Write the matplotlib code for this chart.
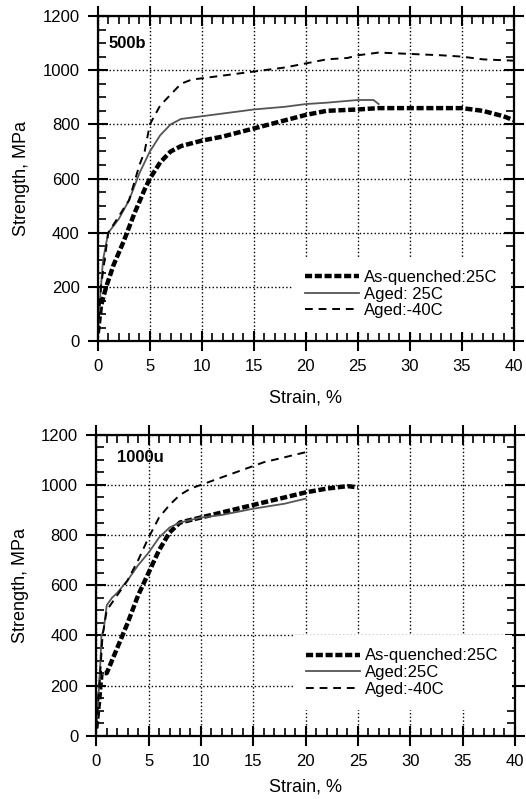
import matplotlib
matplotlib.use("Agg")
import matplotlib.pyplot as plt
from matplotlib.ticker import MultipleLocator

plt.rcParams['font.family'] = ['Liberation Sans', 'DejaVu Sans']

# ---- panel 1: 500b ----
aq500_x = [0, 0.3, 0.8, 1.5, 2.5, 3.5, 4.5, 5, 6, 7, 8, 10, 12, 14, 16, 18, 20, 22, 25, 27, 30, 35, 37, 39, 40]
aq500_y = [30, 130, 200, 280, 370, 470, 560, 600, 660, 700, 720, 740, 755, 775, 795, 815, 835, 850, 855, 860, 860, 860, 850, 830, 815]

ag500_x = [0, 0.2, 0.5, 0.8, 1, 2, 3, 4, 5, 6, 7, 8, 10, 12, 15, 18, 20, 22, 25, 26.5, 27]
ag500_y = [30, 150, 300, 360, 400, 450, 520, 620, 700, 760, 800, 820, 830, 840, 855, 865, 875, 880, 890, 890, 875]

cold500_x = [0, 0.3, 1, 2, 3, 4, 4.5, 5, 6, 7, 8, 9, 10, 13, 16, 18, 20, 22, 24, 25, 27, 30, 33, 35, 37, 40]
cold500_y = [30, 200, 400, 460, 520, 650, 700, 800, 870, 910, 950, 965, 970, 985, 1000, 1010, 1025, 1040, 1045, 1055, 1065, 1060, 1055, 1050, 1040, 1035]

# ---- panel 2: 1000u ----
aq1000_x = [0, 0.3, 0.5, 1, 2, 3, 4, 5, 6, 7, 8, 10, 12, 15, 18, 20, 22, 24, 25]
aq1000_y = [30, 150, 250, 250, 350, 450, 560, 650, 740, 810, 850, 870, 890, 920, 950, 970, 985, 995, 990]

ag1000_x = [0, 0.2, 0.4, 0.5, 0.7, 1, 1.5, 2, 3, 4, 5, 6, 7, 8, 10, 12, 15, 18, 20]
ag1000_y = [30, 150, 300, 400, 420, 520, 550, 570, 620, 680, 730, 790, 830, 850, 870, 880, 905, 925, 945]

cold1000_x = [0, 0.3, 0.6, 1, 2, 3, 4, 5, 6, 7, 8, 9, 10, 12, 14, 16, 18, 20]
cold1000_y = [30, 200, 400, 500, 560, 620, 700, 790, 870, 920, 960, 985, 1000, 1030, 1060, 1090, 1110, 1130]

panels = [
    dict(tag='500b', tag_xy=(1.0, 1100), rect=[0.186, 0.573, 0.791, 0.407],
         data=[(aq500_x, aq500_y), (ag500_x, ag500_y), (cold500_x, cold500_y)],
         labels=['As-quenched:25C', 'Aged: 25C', 'Aged:-40C'],
         leg_anchor=(0.46, 0.0, 0.54, 0.29), xpad=11),
    dict(tag='1000u', tag_xy=(2.0, 1110), rect=[0.183, 0.079, 0.796, 0.377],
         data=[(aq1000_x, aq1000_y), (ag1000_x, ag1000_y), (cold1000_x, cold1000_y)],
         labels=['As-quenched:25C', 'Aged:25C', 'Aged:-40C'],
         leg_anchor=(0.44, 0.09, 0.56, 0.24), xpad=7),
]

fig = plt.figure(figsize=(5.26, 7.99), dpi=100)

for p in panels:
    ax = fig.add_axes(p['rect'])
    (x1, y1), (x2, y2), (x3, y3) = p['data']
    ax.plot(x1, y1, color='black', lw=3.2, dashes=(1.6, 0.6), label=p['labels'][0])
    ax.plot(x2, y2, color='#555555', lw=1.3, label=p['labels'][1])
    ax.plot(x3, y3, color='black', lw=1.4, dashes=(4, 3), label=p['labels'][2])

    ax.set_xlim(0, 40)
    ax.set_ylim(0, 1200)
    ax.xaxis.set_major_locator(MultipleLocator(5))
    ax.xaxis.set_minor_locator(MultipleLocator(1))
    ax.yaxis.set_major_locator(MultipleLocator(200))
    ax.yaxis.set_minor_locator(MultipleLocator(50))
    ax.tick_params(which='major', direction='inout', length=14, width=1.5,
                   top=True, right=True, labelsize=12, pad=6)
    ax.tick_params(which='minor', direction='in', length=6, width=1.2,
                   top=True, right=True)
    for s in ax.spines.values():
        s.set_linewidth(1.6)
    ax.grid(True, which='major', color='black', linestyle=':', linewidth=1.0)
    ax.set_axisbelow(True)

    ax.set_xlabel('Strain, %', fontsize=13, labelpad=p['xpad'])
    ax.set_ylabel('Strength, MPa', fontsize=13, labelpad=9)
    ax.text(p['tag_xy'][0], p['tag_xy'][1], p['tag'], fontsize=12,
            fontweight='bold', va='center', ha='left')

    leg = ax.legend(loc='center right', bbox_to_anchor=p['leg_anchor'],
                    fontsize=12, frameon=True, facecolor='white',
                    edgecolor='none', framealpha=1, fancybox=False,
                    handlelength=3.2, handletextpad=0.3, labelspacing=0.1,
                    borderpad=0.8, borderaxespad=0.2)

fig.savefig('out.png', dpi=100)
